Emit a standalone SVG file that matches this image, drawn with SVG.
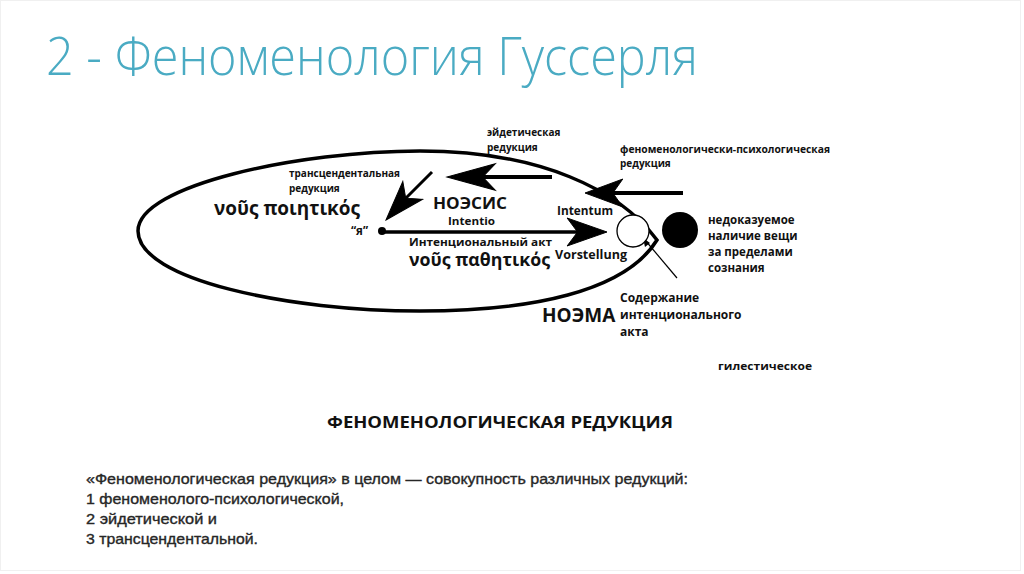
<svg xmlns="http://www.w3.org/2000/svg" width="1024" height="574" viewBox="0 0 1024 574">
<defs>
<style>
.lbl{font-family:"Open Sans","Noto Sans","DejaVu Sans",sans-serif;font-weight:700;fill:#111}
.s{font-size:10px}
.m{font-size:11.5px}
.b{font-size:19px}
.body{font-family:"Liberation Sans","Arial",sans-serif;font-size:15px;fill:#262626;stroke:#262626;stroke-width:0.35}
.ln{stroke:#000;fill:none}
</style>
<path id="ah" d="M0,0 L-42,-14 L-31,0 L-42,14 Z" fill="#000" stroke="#000" stroke-width="1" stroke-linejoin="miter"/>
</defs>
<rect x="0.5" y="0.5" width="1020" height="570" fill="#fff" stroke="#f0f0f0"/>
<text x="46" y="75" font-family="Open Sans,Noto Sans,sans-serif" font-weight="300" font-size="53" fill="#4aabc3" textLength="652" lengthAdjust="spacingAndGlyphs">2 - Феноменология Гуссерля</text>

<g id="connectors">
<path class="ln" stroke-width="3.5" d="M138,231 C138,185 300,151 420,151 C540,151 620,190 657,240 C625,292 530,311 420,311 C290,311 138,280 138,231 Z"/>
<line class="ln" stroke-width="4" x1="552" y1="177" x2="480" y2="177"/>
<use href="#ah" transform="translate(447,177) rotate(180) scale(1.15,0.95)"/>
<line class="ln" stroke-width="3.5" x1="385" y1="232" x2="580" y2="232"/>
<use href="#ah" transform="translate(607,232) scale(0.95,1)"/>
<line class="ln" stroke-width="4" x1="683" y1="193" x2="612" y2="193"/>
<use href="#ah" transform="translate(585,193) rotate(180) scale(0.9,1)"/>
<line class="ln" stroke-width="3" x1="432" y1="172" x2="405" y2="199"/>
<use href="#ah" transform="translate(386,220) rotate(132) scale(0.95,0.95)"/>
<line class="ln" stroke-width="1.2" x1="677" y1="278" x2="645" y2="240"/>
<path d="M643,238 L645,247 L650,243 Z" fill="#000"/>
</g>

<g id="ego">
<circle cx="382" cy="231" r="4" fill="#000"/>
<text class="lbl m" x="351" y="235">“я”</text>
</g>
<g id="transcendental">
<text class="lbl s" x="289" y="177">трансцендентальная</text>
<text class="lbl s" x="289" y="192">редукция</text>
</g>
<g id="nous-poietikos">
<text class="lbl b" x="214" y="215" textLength="146" lengthAdjust="spacingAndGlyphs">νοῦς ποιητικός</text>
</g>
<g id="eidetic">
<text class="lbl s" x="487" y="136">эйдетическая</text>
<text class="lbl s" x="487" y="151">редукция</text>
</g>
<g id="noesis">
<text class="lbl" font-size="16.5" x="433" y="209" textLength="74" lengthAdjust="spacingAndGlyphs">НОЭСИС</text>
<text class="lbl" font-size="10.5" x="448" y="225" textLength="47" lengthAdjust="spacingAndGlyphs">Intentio</text>
</g>
<g id="act">
<text class="lbl" font-size="11" x="409" y="246" textLength="143" lengthAdjust="spacingAndGlyphs">Интенциональный акт</text>
<text class="lbl" font-size="17.5" x="409" y="266" textLength="141" lengthAdjust="spacingAndGlyphs">νοῦς παθητικός</text>
</g>
<g id="intentum">
<text class="lbl" font-size="11.5" x="557" y="215" textLength="56" lengthAdjust="spacingAndGlyphs">Intentum</text>
<text class="lbl" font-size="11.5" x="555" y="259" textLength="72" lengthAdjust="spacingAndGlyphs">Vorstellung</text>
<circle cx="633" cy="231" r="16" fill="#fff" stroke="#000" stroke-width="1.3"/>
</g>
<g id="phen-psych">
<text class="lbl s" x="620" y="153" textLength="210" lengthAdjust="spacingAndGlyphs">феноменологически-психологическая</text>
<text class="lbl s" x="620" y="167">редукция</text>
</g>
<g id="thing">
<circle cx="680" cy="230" r="18" fill="#000"/>
<text class="lbl m" x="708" y="224">недоказуемое</text>
<text class="lbl m" x="708" y="240">наличие вещи</text>
<text class="lbl m" x="708" y="256">за пределами</text>
<text class="lbl m" x="708" y="272">сознания</text>
</g>
<g id="noema">
<text class="lbl b" x="542" y="322">НОЭМА</text>
<text class="lbl" font-size="12" x="620" y="302">Содержание</text>
<text class="lbl" font-size="12" x="620" y="319">интенционального</text>
<text class="lbl" font-size="12" x="620" y="336">акта</text>
</g>
<g id="hyletic">
<text class="lbl" font-size="11" x="718" y="370" textLength="94" lengthAdjust="spacingAndGlyphs">гилестическое</text>
</g>
<g id="caption">
<text class="lbl" font-size="16" fill="#222" x="327" y="428" textLength="346" lengthAdjust="spacingAndGlyphs">ФЕНОМЕНОЛОГИЧЕСКАЯ РЕДУКЦИЯ</text>
</g>
<g id="body">
<text class="body" x="86" y="484" textLength="602" lengthAdjust="spacingAndGlyphs">«Феноменологическая редукция» в целом — совокупность различных редукций:</text>
<text class="body" x="86" y="504" textLength="258" lengthAdjust="spacingAndGlyphs">1 феноменолого-психологической,</text>
<text class="body" x="86" y="524" textLength="131" lengthAdjust="spacingAndGlyphs">2 эйдетической и</text>
<text class="body" x="86" y="544" textLength="172" lengthAdjust="spacingAndGlyphs">3 трансцендентальной.</text>
</g>
</svg>
